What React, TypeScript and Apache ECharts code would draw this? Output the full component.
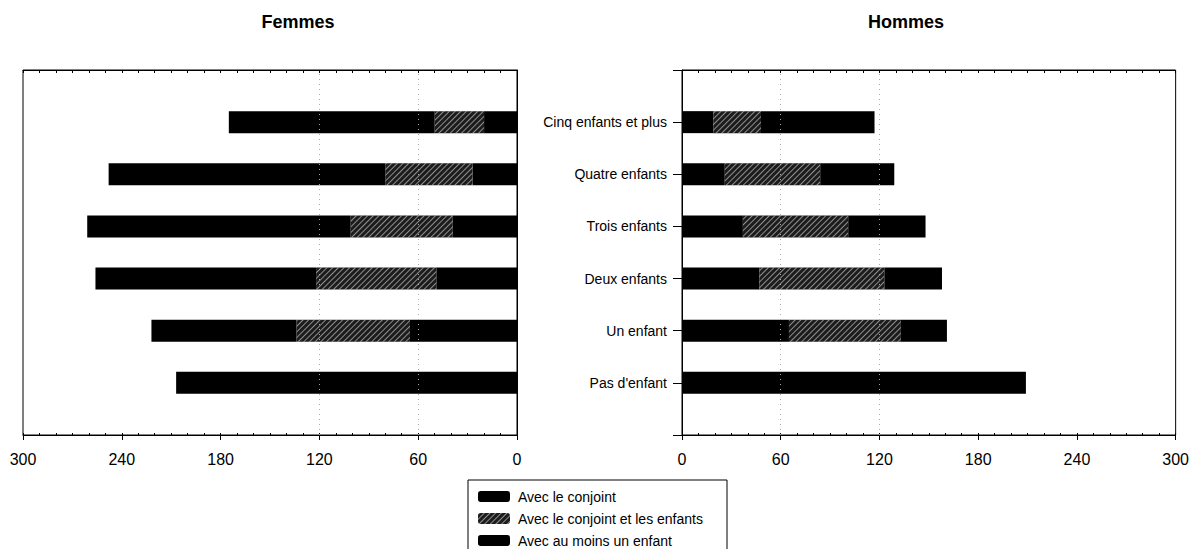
import React, { useEffect, useRef } from "react";
import * as echarts from "echarts";

// Categories from bottom to top (padded with empty slots at both ends)
const categories = ["", "Pas d'enfant", "Un enfant", "Deux enfants", "Trois enfants", "Quatre enfants", "Cinq enfants et plus", ""];
const seriesNames = ["Avec le conjoint", "Avec le conjoint et les enfants", "Avec au moins un enfant"];

// Femmes (order matches categories)
const femmesConjoint = [null, 207, 65, 49, 39, 27, 20, null];
const femmesConjointEnfants = [null, 0, 69, 73, 62, 53, 30, null];
const femmesEnfant = [null, 0, 88, 134, 160, 168, 125, null];

// Hommes
const hommesConjoint = [null, 209, 65, 47, 37, 26, 19, null];
const hommesConjointEnfants = [null, 0, 68, 76, 64, 58, 29, null];
const hommesEnfant = [null, 0, 28, 35, 47, 45, 69, null];

const xTicks = [0, 60, 120, 180, 240, 300];
const gridLineValues = [60, 120];

const FONT = "'Liberation Sans', Arial, sans-serif";

const hatchStyle = {
  color: "#1c1c1c",
  decal: {
    symbol: "rect",
    symbolSize: 1,
    color: "rgba(255,255,255,0.5)",
    dashArrayX: [1, 0],
    dashArrayY: [1, 3],
    rotation: -Math.PI / 4,
  },
};

export default function App() {
  const ref = useRef<HTMLDivElement>(null);
  useEffect(() => {
    if (!ref.current) return;
    const chart = echarts.init(ref.current, undefined, { renderer: "svg" });

    const makeX = (gridIndex: number, inverse: boolean) => [
      {
        type: "value",
        gridIndex,
        min: xTicks[0],
        max: xTicks[xTicks.length - 1],
        interval: 60,
        inverse,
        position: "bottom",
        axisLine: { show: true, onZero: false, lineStyle: { color: "#000", width: 1 } },
        axisTick: { show: true, length: 5, lineStyle: { color: "#000" } },
        axisLabel: { show: true, color: "#000", fontSize: 16, fontFamily: FONT, margin: 16 },
        splitLine: { show: false },
      },
      {
        type: "value",
        gridIndex,
        min: 0,
        max: 300,
        interval: 10,
        inverse,
        position: "top",
        axisLine: { show: true, onZero: false, lineStyle: { color: "#000", width: 1 } },
        axisTick: { show: true, inside: true, length: 3, lineStyle: { color: "#000" } },
        axisLabel: { show: false },
        splitLine: { show: false },
      },
      {
        type: "value",
        gridIndex,
        min: 0,
        max: 300,
        interval: 10,
        inverse,
        position: "bottom",
        offset: 0,
        axisLine: { show: false, onZero: false },
        axisTick: { show: true, inside: true, length: 2, lineStyle: { color: "#000" } },
        axisLabel: { show: false },
        splitLine: { show: false },
      },
    ];

    const xAxis = [...makeX(0, true), ...makeX(1, false)];

    const yAxis = [
      {
        type: "category",
        gridIndex: 0,
        data: categories,
        boundaryGap: false,
        position: "right",
        axisLine: { show: true, lineStyle: { color: "#000" } },
        axisTick: { show: false },
        axisLabel: { show: false },
        splitLine: { show: false },
      },
      {
        type: "category",
        gridIndex: 1,
        data: categories,
        boundaryGap: false,
        position: "left",
        axisLine: { show: true, lineStyle: { color: "#000" } },
        axisTick: { show: true, length: 9, lineStyle: { color: "#000" } },
        axisLabel: { show: true, color: "#000", fontSize: 14, fontFamily: FONT, margin: 15 },
        splitLine: { show: false },
      },
    ];

    const barCommon = { type: "bar", barWidth: 22, z: 3 };

    const gridLines = (xAxisIndex: number, yAxisIndex: number) => ({
      type: "line",
      name: "grid-" + xAxisIndex,
      xAxisIndex,
      yAxisIndex,
      data: [],
      z: 1,
      silent: true,
      markLine: {
        silent: true,
        symbol: ["none", "none"],
        label: { show: false },
        lineStyle: { type: [1, 4], color: "#aaa", width: 1 },
        data: gridLineValues.map((v) => ({ xAxis: v })),
      },
    });

    const series = [
      gridLines(0, 0),
      gridLines(3, 1),
      { ...barCommon, name: seriesNames[0], xAxisIndex: 0, yAxisIndex: 0, stack: "F", itemStyle: { color: "#000" }, data: femmesConjoint },
      { ...barCommon, name: seriesNames[1], xAxisIndex: 0, yAxisIndex: 0, stack: "F", itemStyle: hatchStyle, data: femmesConjointEnfants },
      { ...barCommon, name: seriesNames[2], xAxisIndex: 0, yAxisIndex: 0, stack: "F", itemStyle: { color: "#000" }, data: femmesEnfant },
      { ...barCommon, name: seriesNames[0], xAxisIndex: 3, yAxisIndex: 1, stack: "H", itemStyle: { color: "#000" }, data: hommesConjoint },
      { ...barCommon, name: seriesNames[1], xAxisIndex: 3, yAxisIndex: 1, stack: "H", itemStyle: hatchStyle, data: hommesConjointEnfants },
      { ...barCommon, name: seriesNames[2], xAxisIndex: 3, yAxisIndex: 1, stack: "H", itemStyle: { color: "#000" }, data: hommesEnfant },
    ];

    chart.setOption({
      animation: false,
      backgroundColor: "#fff",
      textStyle: { fontFamily: FONT },
      grid: [
        { left: 23, right: 1192 - 517, top: 70, bottom: 549 - 435, show: true, borderColor: "#000", borderWidth: 1 },
        { left: 682, right: 1192 - 1176, top: 70, bottom: 549 - 435, show: true, borderColor: "#000", borderWidth: 1 },
      ],
      xAxis,
      yAxis,
      series,
      legend: {
        data: seriesNames,
        orient: "vertical",
        left: 468,
        top: 480,
        itemWidth: 32,
        itemHeight: 11,
        itemGap: 7,
        padding: [9, 10, 0, 10],
        selectedMode: false,
        textStyle: { color: "#000", fontSize: 14, lineHeight: 15, fontFamily: FONT, padding: [0, 0, 0, 3] },
      },
      graphic: [
        { type: "rect", shape: { x: 468, y: 480, width: 259, height: 90 }, style: { fill: "none", stroke: "#000", lineWidth: 1 }, z: 10 },
        { type: "text", x: 298, y: 22, style: { text: "Femmes", font: `bold 18px ${FONT}`, fill: "#000", align: "center", verticalAlign: "middle" } },
        { type: "text", x: 906, y: 22, style: { text: "Hommes", font: `bold 18px ${FONT}`, fill: "#000", align: "center", verticalAlign: "middle" } },
      ],
    });

    return () => chart.dispose();
  }, []);

  return (
    <div
      ref={ref}
      style={{ position: "fixed", left: 0, top: 0, width: 1192, height: 549 }}
    />
  );
}
